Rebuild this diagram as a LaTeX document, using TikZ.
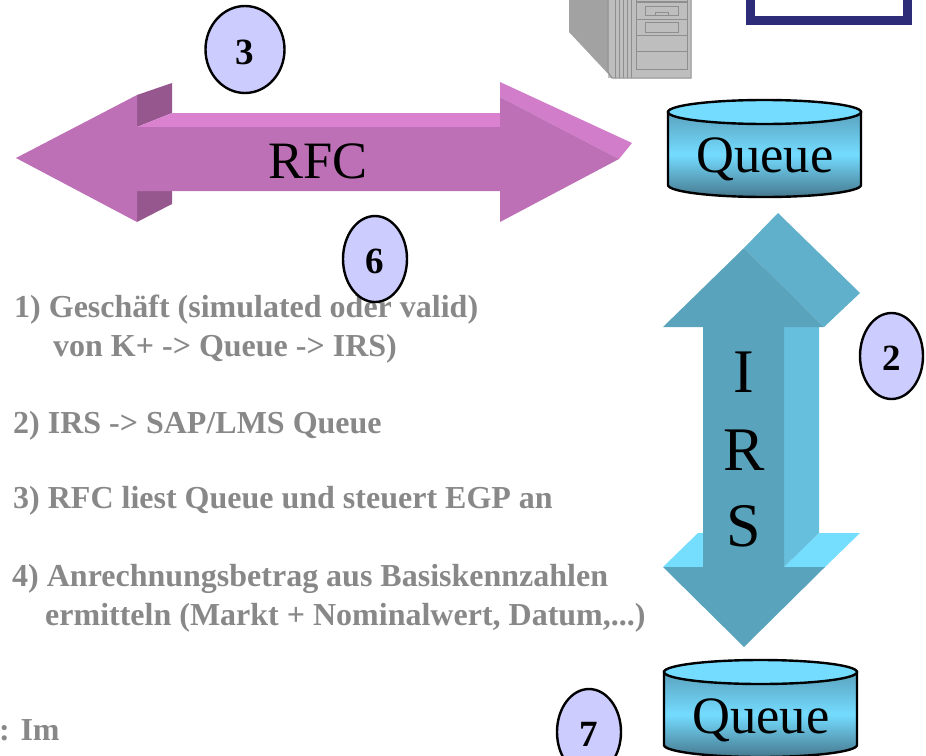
\documentclass[tikz,border=0pt]{standalone}
\usepackage{fontspec}
\setmainfont{Liberation Serif}
\usetikzlibrary{shapes.geometric}
\definecolor{pfront}{HTML}{BD70B5}
\definecolor{ptop}{HTML}{DA82D0}
\definecolor{pdark}{HTML}{95578E}
\definecolor{pface}{HTML}{D27DC9}
\definecolor{bfront}{HTML}{5AA3BC}
\definecolor{btop}{HTML}{60B0CC}
\definecolor{bside}{HTML}{66C0DD}
\definecolor{bwing}{HTML}{75DEFF}
\definecolor{qlight}{HTML}{74DCFF}
\definecolor{qdark}{HTML}{5AA2BE}
\definecolor{qdeep}{HTML}{46788E}
\definecolor{grtext}{HTML}{888888}
\definecolor{badge}{HTML}{CCCCFF}
\definecolor{mframe}{HTML}{2C2C78}
\definecolor{srvside}{HTML}{A2A2A2}
\definecolor{srvfront}{HTML}{BEBEBE}
\definecolor{srvline}{HTML}{8E8E8E}
\newcommand{\lowdigit}[1]{\raisebox{-2.5pt}[24pt][0pt]{#1}}
\tikzset{
  big/.style={font=\fontsize{52.5}{54}\selectfont,inner sep=0pt,text=black},
  irsletter/.style={font=\fontsize{62}{62}\selectfont,inner sep=0pt,text=black,anchor=base},
  info/.style={font=\fontsize{32}{32}\selectfont\bfseries,text=grtext,inner sep=0pt,anchor=base west},
  numbadge/.style={ellipse,draw=black,line width=2.4pt,fill=badge,inner sep=0pt,font=\fontsize{37}{37}\selectfont\bfseries},
  qbody/.style={draw=black,line width=2.4pt,top color=qdark,bottom color=qdeep,middle color=qlight},
  qcap/.style={draw=black,line width=2.4pt,fill=qlight},
  srv/.style={draw=srvline,line width=1pt},
}
\begin{document}
\begin{tikzpicture}[x=1pt,y=-1pt]
\clip (0,0) rectangle (926,755);
% server
\fill[srvside] (569,0) -- (569,32) -- (612,78) -- (608,0) -- cycle;
\fill[srvfront] (608,0) rectangle (691,78);
\draw[srv] (608,0) -- (608,72) -- (612,78) -- (691,78) -- (691,0);
\foreach \xx in {615,619,623,627,631}{\draw[srv] (\xx,0) -- (\xx,78);}
\draw[srv] (636,0) -- (636,69) -- (687,69) -- (687,0);
\draw[srvline,line width=2pt] (636,2) -- (687,2);
\draw[srv] (636,19.5) -- (687,19.5) (636,35.5) -- (687,35.5) (636,51.5) -- (687,51.5);
\draw[srv] (645,6) rectangle (678,15.5);
\draw[srv] (655,15.5) -- (655,12.5) -- (668,12.5) -- (668,15.5);
\draw[srv] (645,22.5) rectangle (678,32);
% monitor
\fill[mframe] (746,0) rectangle (912,25);
\fill[white] (755,0) rectangle (903,16);
% RFC arrow
\fill[pdark] (137,95) -- (172,83) -- (172,113) -- (137,127) -- cycle;
\fill[pdark] (137,191) -- (172,191) -- (172,204) -- (137,222) -- cycle;
\fill[ptop] (137,127) -- (172,113) -- (500,113) -- (500,127) -- cycle;
\fill[pface] (500,97) -- (500,82) -- (632,143) -- (619,159) -- cycle;
\fill[pfront] (16,158) -- (137,95) -- (137,127) -- (500,127) -- (500,97) -- (619,159) -- (500,222) -- (500,191) -- (137,191) -- (137,222) -- cycle;
\node[big,anchor=base] (rfc) at (318,178) {RFC};
% IRS arrow
\fill[bwing] (663,567) -- (698,533) -- (703,533) -- (703,567) -- cycle;
\fill[bwing] (784,567) -- (819,533) -- (860,533) -- (825,567) -- cycle;
\fill[bside] (784,327) -- (819,327) -- (819,533) -- (784,567) -- cycle;
\fill[btop] (744,248) -- (778,213) -- (860,293) -- (824,327) -- cycle;
\fill[bfront] (744,248) -- (824,327) -- (784,327) -- (784,567) -- (825,567) -- (744,647) -- (663,567) -- (703,567) -- (703,327) -- (663,327) -- cycle;
\node[irsletter] (irsI) at (744,392) {I};
\node[irsletter] (irsR) at (744,470) {R};
\node[irsletter] (irsS) at (744,546) {S};
% queues
\path[qbody] (668,112) -- (668,185) arc[start angle=180,end angle=0,x radius=96.5,y radius=12] -- (861,112) -- cycle;
\path[qcap] (764.5,112) ellipse[x radius=96.5,y radius=12];
\node[big,anchor=base] (q1) at (765,172) {Queue};
\path[qbody] (664,672) -- (664,745) arc[start angle=180,end angle=0,x radius=96.5,y radius=12] -- (857,672) -- cycle;
\path[qcap] (760.5,672) ellipse[x radius=96.5,y radius=12];
\node[big,anchor=base] (q2) at (761,733) {Queue};
% text
\node[info] (t1) at (14,317) {1) Geschäft (simulated oder valid)};
\node[info] (t2) at (53,356) {von K+ -> Queue -> IRS)};
\node[info] (t3) at (13,433) {2) IRS -> SAP/LMS Queue};
\node[info] (t4) at (13,508) {3) RFC liest Queue und steuert EGP an};
\node[info] (t5) at (12,586) {4) Anrechnungsbetrag aus Basiskennzahlen};
\node[info] (t6) at (45,625) {ermitteln (Markt + Nominalwert, Datum,...)};
\node[info] (t7) at (-1,740) {: Im};
% badges
\node[numbadge,minimum width=79pt,minimum height=87pt] (n3) at (245,49.5) {\lowdigit{3}};
\node[numbadge,minimum width=64pt,minimum height=86pt] (n6) at (375,259) {\lowdigit{6}};
\node[numbadge,minimum width=63pt,minimum height=86pt] (n2) at (891.5,356) {\lowdigit{2}};
\node[numbadge,minimum width=64pt,minimum height=86pt] (n7) at (589,732) {\lowdigit{7}};
\end{tikzpicture}
\end{document}
